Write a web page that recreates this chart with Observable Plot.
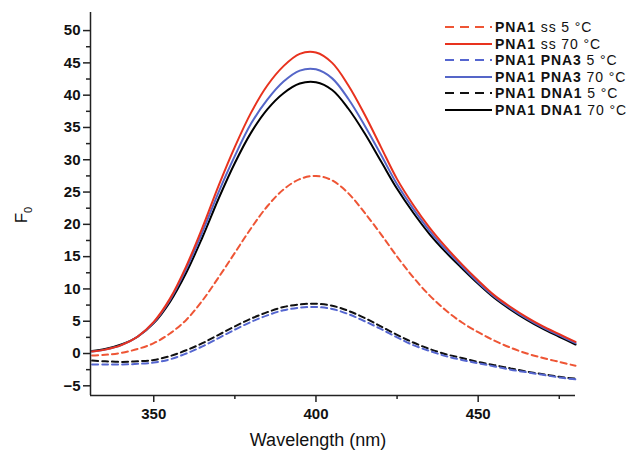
<!DOCTYPE html>
<html><head><meta charset="utf-8">
<script src="https://cdn.jsdelivr.net/npm/d3@7"></script>
<script src="https://cdn.jsdelivr.net/npm/@observablehq/plot@0.6"></script>
<style>
body{margin:0;background:#fff;font-family:"Liberation Sans",Arial,sans-serif;}
#wrap{position:relative;width:640px;height:456px;overflow:hidden;}
#legend{position:absolute;left:444px;top:19px;font-size:14px;line-height:16.5px;color:#111;letter-spacing:0.9px;}
#legend .row{display:flex;align-items:center;height:16.5px;white-space:nowrap;}
#legend b{font-weight:bold;}
</style></head>
<body><div id="wrap"><div id="legend"></div></div>
<script>
const wavelengths = [331,335,340,345,350,355,360,365,370,375,380,385,390,395,400,405,410,415,420,425,430,435,440,445,450,455,460,465,470,475,480];
const ss70    = [0.3,0.6,1.3,2.6,4.9,8.5,13.5,19.5,26,32,37.3,41.5,44.5,46.4,46.6,45,41.5,37,32,27,23,19.5,16.5,13.8,11.3,9,7.2,5.6,4.2,3,1.8];
const pna3_70 = [0.3,0.6,1.3,2.6,4.8,8.3,13.1,18.8,25,30.6,35.6,39.3,42.1,43.8,44,42.6,39.4,35.3,30.8,26.2,22.4,19,16.1,13.5,11,8.8,7,5.4,4,2.8,1.6];
const dna1_70 = [0.4,0.7,1.4,2.6,4.7,8,12.5,18,24,29.5,34.2,37.8,40.3,41.8,42,40.8,37.9,34.1,29.8,25.5,21.8,18.5,15.7,13.2,10.8,8.6,6.8,5.2,3.8,2.6,1.4];
const ss5     = [-0.3,-0.2,0.1,0.7,1.6,3.1,5.2,8.2,11.8,15.6,19.4,22.8,25.4,27,27.5,26.8,24.8,21.8,18.5,15,11.8,9,6.7,4.8,3.3,2,0.9,0,-0.7,-1.3,-1.9];
const pna3_5  = [-1.7,-1.7,-1.7,-1.6,-1.4,-0.9,0,1.1,2.4,3.7,4.9,5.9,6.7,7.1,7.2,6.9,6.1,5,3.8,2.5,1.3,0.4,-0.4,-1,-1.5,-2,-2.5,-2.9,-3.3,-3.7,-4];
const dna1_5  = [-1.1,-1.2,-1.3,-1.2,-1,-0.4,0.5,1.6,2.9,4.2,5.4,6.4,7.2,7.6,7.7,7.4,6.6,5.5,4.2,2.9,1.7,0.7,-0.1,-0.7,-1.3,-1.8,-2.3,-2.8,-3.2,-3.6,-3.9];

const seriesNames = ["PNA1 ss 5 °C","PNA1 ss 70 °C","PNA1 PNA3 5 °C","PNA1 PNA3 70 °C","PNA1 DNA1 5 °C","PNA1 DNA1 70 °C"];
const seriesValues = [ss5, ss70, pna3_5, pna3_70, dna1_5, dna1_70];
const seriesColors = ["#ee5535","#e8321e","#5566d0","#5566c8","#111111","#000000"];
const seriesDashed = [true,false,true,false,true,false];

const xMajor = [350,400,450], xMinor = [375,425,475];
const yMajor = [-5,0,5,10,15,20,25,30,35,40,45,50];
const yMinor = [-2.5,2.5,7.5,12.5,17.5,22.5,27.5,32.5,37.5,42.5,47.5];
const xDomain = [330.5,480], yDomain = [-6.5,52.8];

const marks = [];
const order = [4,2,0,5,3,1];
for (const i of order) {
  const data = wavelengths.map((w,k)=>({w, v: seriesValues[i][k]}));
  marks.push(Plot.line(data,{x:"w",y:"v",stroke:seriesColors[i],strokeWidth:2,
    strokeDasharray: seriesDashed[i] ? "6,4" : null, curve:"catmull-rom"}));
}
marks.push(Plot.ruleY([yDomain[0]],{stroke:"#222",strokeWidth:1.5}));
marks.push(Plot.ruleX([xDomain[0]],{stroke:"#222",strokeWidth:1.5}));
marks.push(Plot.axisX(xMajor,{tickSize:7,tickPadding:6,fontSize:15,fontWeight:"bold",label:null,stroke:"#222",strokeWidth:1.5}));
marks.push(Plot.axisX(xMinor,{tickSize:4,text:null,label:null,stroke:"#222",strokeWidth:1.5}));
marks.push(Plot.axisY(yMajor,{tickSize:7,tickPadding:3,fontSize:15,fontWeight:"bold",label:null,stroke:"#222",strokeWidth:1.5}));
marks.push(Plot.axisY(yMinor,{tickSize:4,text:null,label:null,stroke:"#222",strokeWidth:1.5}));

const chart = Plot.plot({
  width:640,height:456,marginLeft:90,marginRight:65,marginTop:12,marginBottom:61,
  style:{fontFamily:"Liberation Sans, Arial, sans-serif",color:"#111",background:"white"},
  x:{domain:xDomain},
  y:{domain:yDomain},
  marks
});
document.getElementById("wrap").prepend(chart);

const svg = d3.select(chart);
svg.append("text").attr("x",318).attr("y",446).attr("text-anchor","middle")
  .attr("font-size",18).attr("fill","#111").attr("font-family","Liberation Sans, Arial, sans-serif")
  .text("Wavelength (nm)");
const yt = svg.append("text").attr("transform","translate(27,215) rotate(-90)").attr("text-anchor","middle")
  .attr("font-size",17).attr("fill","#111").attr("font-family","Liberation Sans, Arial, sans-serif");
yt.append("tspan").text("F");
yt.append("tspan").attr("font-size",11).attr("dy",5).text("0");

const leg = document.getElementById("legend");
seriesNames.forEach((name,i)=>{
  const row = document.createElement("div"); row.className="row";
  const html = name.split(" ").map(p => /^(PNA|DNA)/.test(p) ? `<b>${p}</b>` : p).join(" ");
  row.innerHTML = `<svg width="49" height="16" style="margin-right:2px"><line x1="1" y1="8" x2="48" y2="8" stroke="${seriesColors[i]}" stroke-width="2" ${seriesDashed[i]?'stroke-dasharray="9,6"':''}/></svg><span>${html}</span>`;
  leg.appendChild(row);
});
</script></body></html>
